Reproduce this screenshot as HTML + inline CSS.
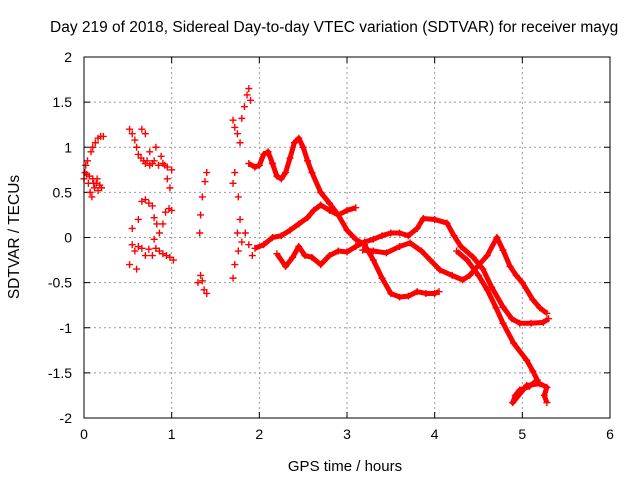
<!DOCTYPE html>
<html><head><meta charset="utf-8"><style>
body{margin:0;background:#fff}
svg{display:block;font-family:"Liberation Sans",sans-serif}
</style></head><body>
<svg id="chart" width="640" height="480">
<text x="50" y="32" text-anchor="start" font-size="15.5">Day 219 of 2018, Sidereal Day-to-day VTEC variation (SDTVAR) for receiver mayg</text>
<text x="345" y="471" text-anchor="middle" font-size="15">GPS time / hours</text>
<text transform="translate(19,237) rotate(-90)" text-anchor="middle" font-size="15.5">SDTVAR / TECUs</text>
<g id="grid"></g><g id="marks"></g>
<rect x="84" y="57" width="526" height="361" fill="none" stroke="#000"/>
</svg>
<script>
const xTicks=[0,1,2,3,4,5,6];
const yTicks=[-2,-1.5,-1,-0.5,0,0.5,1,1.5,2];
const yTickLabels=["-2","-1.5","-1","-0.5","0","0.5","1","1.5","2"];
const clusterEarly=[[0,0.65],[0.02,0.8],[0.03,0.7],[0.05,0.6],[0.07,0.5],[0.09,0.45],[0.1,0.65],[0.12,0.55],[0.14,0.6],[0.16,0.52],[0.18,0.58],[0.2,0.55],[0.04,0.85],[0.08,0.95],[0.1,1.0],[0.13,1.05],[0.16,1.1],[0.19,1.12],[0.22,1.12],[0.01,0.72],[0.06,0.68],[0.11,0.6],[0.15,0.65]];
const clusterA=[[0.52,1.2],[0.55,1.15],[0.58,1.08],[0.6,1.0],[0.62,0.92],[0.65,0.88],[0.68,0.85],[0.7,0.82],[0.75,0.8],[0.8,0.85],[0.85,0.8],[0.9,0.82],[0.95,0.78],[1.0,0.75],[0.66,1.2],[0.7,1.15],[0.75,0.95],[0.82,1.0],[0.88,0.9],[0.95,0.65],[0.98,0.55],[0.72,0.85],[0.78,0.82],[0.92,0.8]];
const clusterB=[[0.55,0.1],[0.62,0.2],[0.66,0.4],[0.7,0.42],[0.74,0.38],[0.78,0.35],[0.8,0.22],[0.83,0.15],[0.86,0.05],[0.9,0.15],[0.93,0.28],[0.97,0.32],[1.0,0.3],[0.8,-0.02]];
const clusterC=[[0.52,-0.3],[0.55,-0.08],[0.58,-0.15],[0.62,-0.1],[0.66,-0.12],[0.7,-0.2],[0.74,-0.13],[0.78,-0.2],[0.82,-0.12],[0.86,-0.15],[0.9,-0.18],[0.94,-0.2],[0.98,-0.22],[1.02,-0.25],[0.6,-0.35]];
const clusterD=[[1.3,-0.5],[1.33,-0.42],[1.35,-0.48],[1.37,-0.58],[1.4,-0.62],[1.32,0.05],[1.33,0.25],[1.35,0.45],[1.38,0.62],[1.4,0.72]];
const clusterE=[[1.7,1.3],[1.72,1.22],[1.75,1.15],[1.78,1.05],[1.8,1.32],[1.83,1.45],[1.86,1.58],[1.88,1.65],[1.9,1.52],[1.7,0.6],[1.72,0.72],[1.76,0.45],[1.7,-0.45],[1.72,-0.3],[1.76,-0.15],[1.78,0.2],[1.8,-0.05],[1.84,0.05],[1.88,-0.08],[1.92,-0.2],[1.75,0.05]];
const trackA=[[1.88,0.82],[1.95,0.78],[2.0,0.8],[2.05,0.92],[2.1,0.95],[2.15,0.82],[2.2,0.68],[2.25,0.65],[2.3,0.72],[2.35,0.88],[2.4,1.05],[2.45,1.1],[2.5,1.0],[2.55,0.85],[2.6,0.72],[2.7,0.5],[2.8,0.38],[2.9,0.25],[3.0,0.08],[3.1,-0.02],[3.2,-0.08],[3.3,-0.25],[3.4,-0.45],[3.5,-0.62],[3.6,-0.66],[3.7,-0.65],[3.8,-0.6],[3.9,-0.62],[4.0,-0.62],[4.05,-0.6]];
const trackB=[[1.95,-0.12],[2.05,-0.08],[2.15,0.0],[2.25,0.02],[2.35,0.08],[2.45,0.15],[2.55,0.22],[2.62,0.3],[2.7,0.36],[2.8,0.3],[2.9,0.25],[3.0,0.3],[3.1,0.33]];
const trackC=[[2.2,-0.18],[2.3,-0.32],[2.38,-0.22],[2.45,-0.1],[2.52,-0.2],[2.6,-0.22],[2.7,-0.3],[2.8,-0.2],[2.9,-0.15],[3.0,-0.16],[3.1,-0.1],[3.2,-0.05],[3.3,-0.02],[3.4,0.02],[3.5,0.05],[3.6,0.05],[3.7,0.02],[3.8,0.1],[3.87,0.21],[4.0,0.2],[4.14,0.16],[4.22,0.02],[4.3,-0.1],[4.44,-0.22],[4.55,-0.35],[4.65,-0.55],[4.78,-0.77],[4.88,-0.9],[4.97,-0.95],[5.1,-0.95],[5.24,-0.94],[5.3,-0.9]];
const trackD=[[3.18,-0.14],[3.3,-0.15],[3.45,-0.17],[3.6,-0.1],[3.72,-0.06],[3.85,-0.15],[3.95,-0.25],[4.06,-0.36],[4.2,-0.42],[4.32,-0.47],[4.4,-0.42],[4.48,-0.33],[4.6,-0.2],[4.71,0.0],[4.78,-0.14],[4.86,-0.32],[4.93,-0.42],[5.0,-0.5],[5.12,-0.69],[5.2,-0.78],[5.28,-0.84]];
const trackE=[[4.25,-0.15],[4.37,-0.25],[4.5,-0.42],[4.6,-0.58],[4.7,-0.78],[4.78,-0.95],[4.9,-1.17],[5.05,-1.36],[5.12,-1.48],[5.17,-1.58],[5.08,-1.65],[4.97,-1.69],[4.92,-1.75],[4.89,-1.83],[5.05,-1.64],[5.2,-1.62],[5.28,-1.66],[5.25,-1.75],[5.28,-1.83]];
const clusters=[clusterEarly,clusterA,clusterB,clusterC,clusterD,clusterE];
const tracks=[trackA,trackB,trackC,trackD,trackE];
const X0=84,X1=610,Y0=418,Y1=57;
const sx=t=>X0+(t-0)/(6-0)*(X1-X0);
const sy=v=>Y0-(v+2)/4*(Y0-Y1);
const NS="http://www.w3.org/2000/svg";
const grid=document.getElementById('grid'),marks=document.getElementById('marks');
function mk(tag,attrs,parent){const e=document.createElementNS(NS,tag);for(const k in attrs)e.setAttribute(k,attrs[k]);parent.appendChild(e);return e;}
xTicks.forEach(t=>{
  const x=sx(t);
  if(t>0&&t<6){const g=mk('line',{x1:x,x2:x,y1:Y1,y2:Y0,stroke:'#999','stroke-dasharray':'2,3'},grid);
  
  }
  mk('line',{x1:x,x2:x,y1:Y0,y2:Y0-6,stroke:'#000'},grid);
  mk('line',{x1:x,x2:x,y1:Y1,y2:Y1+6,stroke:'#000'},grid);
  const l=mk('text',{x:x,y:Y0+21,'text-anchor':'middle','font-size':14},grid);l.textContent=t;
  
  
});
yTicks.forEach((v,i)=>{
  const y=sy(v);
  if(v>-2&&v<2){const g=mk('line',{x1:X0,x2:X1,y1:y,y2:y,stroke:'#999','stroke-dasharray':'2,3'},grid);
  
  }
  mk('line',{x1:X0,x2:X0+6,y1:y,y2:y,stroke:'#000'},grid);
  mk('line',{x1:X1,x2:X1-6,y1:y,y2:y,stroke:'#000'},grid);
  const l=mk('text',{x:X0-12,y:y+5,'text-anchor':'end','font-size':14},grid);l.textContent=yTickLabels[i];
  
  
});
tracks.forEach(tr=>{
  const p=mk('polyline',{points:tr.map(d=>sx(d[0])+','+sy(d[1])).join(' '),fill:'none',stroke:'#f00','stroke-width':5,'stroke-linejoin':'round'},marks);
  
  
});
function plus(d){
  const x=sx(d[0]),y=sy(d[1]);
  const p=mk('path',{d:`M${x-3.5},${y}h7M${x},${y-3.5}v7`,stroke:'#f00','stroke-width':1.4},marks);
  
  
}
clusters.forEach(c=>c.forEach(plus));
tracks.forEach(c=>c.forEach(plus));
</script>
</body></html>
